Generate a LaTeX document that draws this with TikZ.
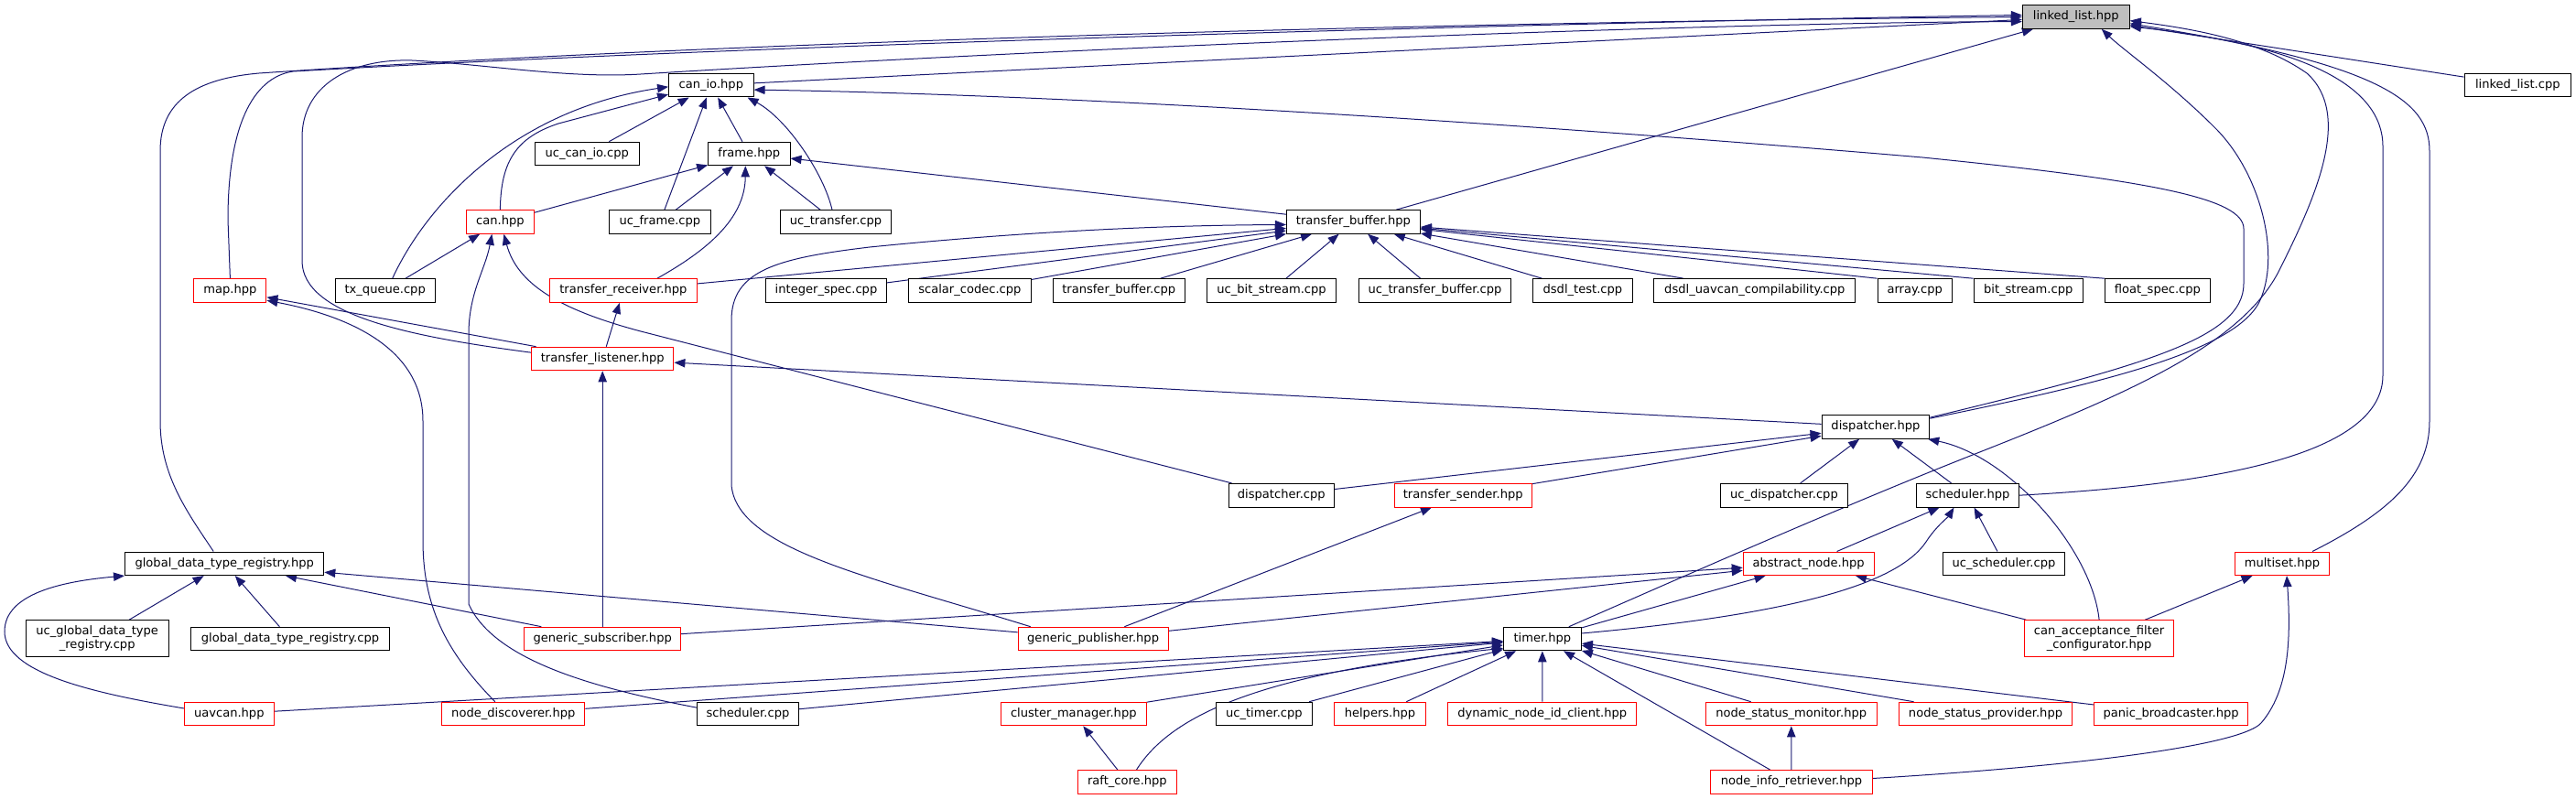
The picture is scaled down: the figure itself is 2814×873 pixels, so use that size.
\documentclass[tikz,border=0pt]{standalone}
\usepackage{fontspec}
\setmainfont{DejaVu Sans}
\usetikzlibrary{arrows.meta,calc}
\definecolor{edgeblue}{HTML}{191970}
\definecolor{hlgray}{HTML}{BFBFBF}
\pgfdeclarelayer{bg}
\pgfsetlayers{bg,main}
\tikzset{
  basebox/.style={draw=black, line width=0.75pt, fill=white, inner sep=0pt,
    font=\fontsize{9.8}{11.5}\selectfont},
  box/.style={basebox, minimum height=19.2pt, text height=7.3pt, text depth=2.2pt},
  redbox/.style={box, draw=red},
  twobox/.style={basebox, minimum height=30.2pt, align=center},
  wd/.style={minimum width=#1*0.75pt},
  dep/.style={draw=edgeblue, line width=0.75pt, -{Triangle[length=9pt,width=7pt]}},
}
\begin{document}
\begin{tikzpicture}[x=0.75pt,y=-0.75pt]
\useasboundingbox (0,0) rectangle (2814,873);
% ---------------- nodes ----------------
\node[box, wd=117, fill=hlgray] (LL) at (2267.8,18.5) {linked\_list.hpp};
\node[box, wd=92.5] (CI) at (776.8,93.2) {can\_io.hpp};
\node[box, wd=116.6] (LLC) at (2750.3,93.2) {linked\_list.cpp};
\node[box, wd=114.1] (UCI) at (641.2,168) {uc\_can\_io.cpp};
\node[box, wd=89.4] (FR) at (818.3,168) {frame.hpp};
\node[redbox, wd=73.6] (CAN) at (546.4,242.5) {can.hpp};
\node[box, wd=110.9] (UF) at (720.9,242.5) {uc\_frame.cpp};
\node[box, wd=120.7] (UT) at (913,242.5) {uc\_transfer.cpp};
\node[box, wd=145.9] (TB) at (1478.4,242.5) {transfer\_buffer.hpp};
\node[redbox, wd=79] (MAP) at (251.4,317.5) {map.hpp};
\node[box, wd=108.6] (TQ) at (420.7,317.5) {tx\_queue.cpp};
\node[redbox, wd=160.4] (TR) at (680.9,317.5) {transfer\_receiver.hpp};
\node[box, wd=132] (IS) at (902.5,317.5) {integer\_spec.cpp};
\node[box, wd=133.3] (SCO) at (1059.4,317.5) {scalar\_codec.cpp};
\node[box, wd=143.7] (TBC) at (1222.2,317.5) {transfer\_buffer.cpp};
\node[box, wd=141.5] (UBS) at (1389,317.5) {uc\_bit\_stream.cpp};
\node[box, wd=166.1] (UTB) at (1567.5,317.5) {uc\_transfer\_buffer.cpp};
\node[box, wd=108.2] (DT) at (1728.9,317.5) {dsdl\_test.cpp};
\node[box, wd=220] (DUC) at (1916.8,317.5) {dsdl\_uavcan\_compilability.cpp};
\node[box, wd=81.3] (ARR) at (2091.7,317.5) {array.cpp};
\node[box, wd=119.3] (BS) at (2215.7,317.5) {bit\_stream.cpp};
\node[box, wd=114.7] (FS) at (2356.9,317.5) {float\_spec.cpp};
\node[redbox, wd=155.4] (TL) at (658.2,392) {transfer\_listener.hpp};
\node[box, wd=117.7] (DH) at (2048.9,466.5) {dispatcher.hpp};
\node[box, wd=115.5] (DC) at (1399.8,541.2) {dispatcher.cpp};
\node[redbox, wd=150.4] (TS) at (1598.2,541.2) {transfer\_sender.hpp};
\node[box, wd=138.7] (UD) at (1948.9,541.2) {uc\_dispatcher.cpp};
\node[box, wd=111.5] (SH) at (2149.5,541.2) {scheduler.hpp};
\node[box, wd=217.3] (GD) at (245.2,615.8) {global\_data\_type\_registry.hpp};
\node[redbox, wd=142.8] (AN) at (1975.6,615.8) {abstract\_node.hpp};
\node[box, wd=133.4] (US) at (2189,615.8) {uc\_scheduler.cpp};
\node[redbox, wd=103.8] (MS) at (2493,615.8) {multiset.hpp};
\node[twobox, wd=155.8] (UGD) at (106.2,697.8) {uc\_global\_data\_type\\\_registry.cpp};
\node[box, wd=216.4] (GDC) at (317,698) {global\_data\_type\_registry.cpp};
\node[redbox, wd=170.6] (GS) at (658.2,698) {generic\_subscriber.hpp};
\node[redbox, wd=163.8] (GP) at (1194.1,698) {generic\_publisher.hpp};
\node[box, wd=84.9] (TM) at (1684.9,698) {timer.hpp};
\node[twobox, draw=red, wd=163] (CF) at (2293.1,697.8) {can\_acceptance\_filter\\\_configurator.hpp};
\node[redbox, wd=97.4] (UV) at (250.3,780) {uavcan.hpp};
\node[redbox, wd=156.2] (ND) at (560.8,780) {node\_discoverer.hpp};
\node[box, wd=110.9] (SC) at (817,780) {scheduler.cpp};
\node[redbox, wd=158.9] (CM) at (1172.8,780) {cluster\_manager.hpp};
\node[box, wd=105.6] (UTM) at (1380.9,780) {uc\_timer.cpp};
\node[redbox, wd=99.2] (HE) at (1507.5,780) {helpers.hpp};
\node[redbox, wd=206.5] (DNC) at (1684.7,780) {dynamic\_node\_id\_client.hpp};
\node[redbox, wd=186.8] (NSM) at (1956.7,780) {node\_status\_monitor.hpp};
\node[redbox, wd=189.1] (NSP) at (2169,780) {node\_status\_provider.hpp};
\node[redbox, wd=168] (PB) at (2371.6,780) {panic\_broadcaster.hpp};
\node[redbox, wd=108.2] (RC) at (1231.4,854.5) {raft\_core.hpp};
\node[redbox, wd=176.5] (NIR) at (1957,854.5) {node\_info\_retriever.hpp};
% ---------------- edges ----------------
\begin{pgfonlayer}{bg}
% into linked_list.hpp
\draw[dep] (CI) -- (LL);
\draw[dep] (TL.175) .. controls (450,368) and (330,345) .. (330,285) -- (330,150)
  .. controls (330,95) and (380,64) .. (450,66) .. controls (530,70) and (620,86) .. (700,81)
  .. controls (1200,50) and (1900,24) .. (LL.185);
\draw[dep] ($(GD.north)+(-12,0)$) .. controls (205,560) and (175,520) .. (175,460) -- (175,165)
  .. controls (175,110) and (215,86) .. (283,80) .. controls (900,38) and (1800,22) .. (LL.west);
\draw[dep] (MAP.north) -- (249,240) .. controls (249,140) and (275,85) .. (320,78)
  .. controls (900,45) and (1800,23) .. (LL.178);
\draw[dep] (TB) -- (LL);
\draw[dep] (LLC) -- (LL);
\draw[dep] (SH.east) .. controls (2450,528) and (2603,490) .. (2603,410) -- (2603,160)
  .. controls (2603,95) and (2520,50) .. (LL.-10);
\draw[dep] ($(MS.north)+(33,0)$) .. controls (2610,560) and (2654,520) .. (2654,460) -- (2654,165)
  .. controls (2654,110) and (2600,70) .. (LL.-7);
\draw[dep] ($(TM.north)+(29,0)$) .. controls (1850,625) and (2020,550) .. (2160,495)
  .. controls (2330,428) and (2450,375) .. (2490,295) .. controls (2530,215) and (2570,125) .. (2520,80)
  .. controls (2470,45) and (2400,32) .. (LL.-4);
\draw[dep] ($(DH.north east)+(0,4)$) .. controls (2290,420) and (2440,385) .. (2468,330)
  .. controls (2492,280) and (2470,190) .. (2420,140) .. controls (2370,90) and (2320,55) .. ($(LL.south)+(28,0)$);
% into can_io.hpp
\draw[dep] (UCI) -- (CI);
\draw[dep] (CAN.north) .. controls (547,175) and (565,150) .. (610,135) -- (CI.192);
\draw[dep] ($(TQ.north)+(8,0)$) .. controls (465,225) and (560,120) .. (CI.182);
\draw[dep] (UF) -- (CI);
\draw[dep] (FR) -- (CI);
\draw[dep] ($(UT.north)+(-4,0)$) .. controls (900,190) and (860,130) .. ($(CI.south east)+(-7,0)$);
\draw[dep] ($(DH.north east)+(0,3)$) .. controls (2340,400) and (2451,370) .. (2451,310) -- (2451,250)
  .. controls (2451,218) and (2360,198) .. (2100,172) .. controls (1700,138) and (1200,104) .. (CI.-6);
% into frame.hpp
\draw[dep] (CAN) -- (FR);
\draw[dep] (UF) -- (FR);
\draw[dep] ($(TR.north)+(37,0)$) .. controls (770,275) and (814,240) .. ($(FR.south)+(-4,0)$);
\draw[dep] (UT) -- (FR);
\draw[dep] (TB) -- (FR);
% into can.hpp
\draw[dep] (TQ) -- (CAN);
\draw[dep] (SC.173) .. controls (650,752) and (540,722) .. (512,660) -- (512,365)
  .. controls (512,320) and (530,295) .. ($(CAN.south)+(-9,0)$);
\draw[dep] ($(DC.north west)+(4,0)$) -- (700,362) .. controls (610,338) and (565,310) .. ($(CAN.south)+(4,0)$);
% into map.hpp
\draw[dep] (TL) -- (MAP);
\draw[dep] ($(ND.north)+(-20,0)$) .. controls (485,710) and (462,660) .. (462,590) -- (462,460)
  .. controls (462,380) and (380,345) .. (MAP.-15);
% transfer_receiver / transfer_listener
\draw[dep] (TL) -- (TR);
\draw[dep] (DH) -- (TL);
\draw[dep] (GS) -- (TL);
% into transfer_buffer.hpp
\draw[dep] (TR) -- (TB);
\draw[dep] (IS) -- (TB);
\draw[dep] (SCO) -- (TB);
\draw[dep] (TBC) -- (TB);
\draw[dep] (UBS) -- (TB);
\draw[dep] (UTB) -- (TB);
\draw[dep] (DT) -- (TB);
\draw[dep] (DUC) -- (TB);
\draw[dep] (ARR.north west) -- (TB);
\draw[dep] (BS.north west) -- (TB);
\draw[dep] (FS.north west) -- (TB);
\draw[dep] ($(GP.north west)+(14,0)$) .. controls (950,630) and (805,600) .. (799,530) -- (799,350)
  .. controls (799,295) and (850,282) .. (950,270) .. controls (1150,250) and (1300,246) .. ($(TB.west)+(0,3)$);
% into dispatcher.hpp
\draw[dep] (DC) -- (DH);
\draw[dep] (TS) -- (DH);
\draw[dep] (UD) -- (DH);
\draw[dep] (SH) -- (DH);
\draw[dep] (CF.north) .. controls (2285,600) and (2195,498) .. ($(DH.south east)+(-2,0)$);
% into scheduler.hpp
\draw[dep] (AN) -- (SH);
\draw[dep] (US) -- (SH);
\draw[dep] ($(TM.east)+(0,-6)$) .. controls (1950,672) and (2072,640) .. (2104,592)
  .. controls (2115,575) and (2128,565) .. ($(SH.south)+(-15,0)$);
% into abstract_node.hpp
\draw[dep] (GS) -- (AN);
\draw[dep] (GP) -- (AN);
\draw[dep] (TM) -- (AN);
\draw[dep] (CF) -- (AN);
% into global_data_type_registry.hpp
\draw[dep] (UGD) -- (GD);
\draw[dep] (GDC) -- (GD);
\draw[dep] (GS) -- (GD);
\draw[dep] (GP) -- (GD);
\draw[dep] ($(UV.west)+(0,-6)$) .. controls (100,757) and (5,735) .. (5,690)
  .. controls (5,648) and (70,635) .. (GD.south west);
% into multiset.hpp
\draw[dep] (CF) -- (MS);
\draw[dep] ($(NIR.east)+(0,-4)$) .. controls (2300,835) and (2450,812) .. (2470,790)
  .. controls (2500,755) and (2503,700) .. ($(MS.south)+(5,0)$);
% into transfer_sender.hpp
\draw[dep] (GP) -- (TS);
% into timer.hpp
\draw[dep] (UV) -- (TM);
\draw[dep] (ND) -- (TM);
\draw[dep] (SC) -- (TM);
\draw[dep] (CM) -- (TM);
\draw[dep] ($(RC.north)+(10,0)$) .. controls (1280,780) and (1380,735) .. ($(TM.south west)+(0,-3)$);
\draw[dep] (UTM) -- (TM);
\draw[dep] (HE) -- (TM);
\draw[dep] (DNC) -- (TM);
\draw[dep] (NIR) -- (TM);
\draw[dep] (NSM) -- (TM);
\draw[dep] (NSP) -- (TM);
\draw[dep] (PB) -- (TM);
% others
\draw[dep] (RC) -- (CM);
\draw[dep] (NIR) -- (NSM);
\end{pgfonlayer}
\end{tikzpicture}
\end{document}
